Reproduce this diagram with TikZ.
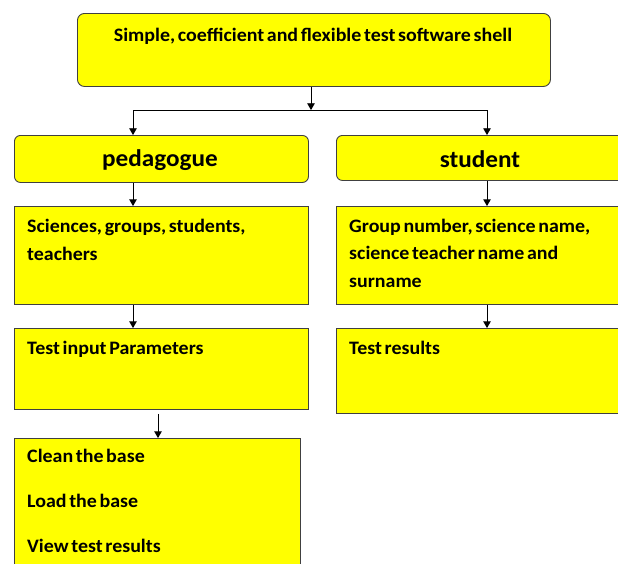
\documentclass[tikz,border=0pt]{standalone}
\usepackage{fontspec}
\setmainfont[FakeStretch=1.05, WordSpace=0.6]{Carlito}
\usetikzlibrary{arrows,positioning}

\definecolor{boxyellow}{RGB}{255,255,0}
\definecolor{boxline}{RGB}{64,64,64}

\tikzset{
  box/.style={draw=boxline, fill=boxyellow, line width=0.9pt, inner sep=0pt, anchor=north west},
  roundbox/.style={box, rounded corners=7pt},
  txt/.style={font=\bfseries\fontsize{19}{28}\selectfont, inner sep=0pt, text width=285pt, align=left, anchor=base west,
    execute at begin node={\spaceskip=0.14em plus 0.05em\relax}},
  head/.style={font=\bfseries\fontsize{24}{26}\selectfont, inner sep=0pt},
  arr/.style={-triangle 60, line width=0.8pt}
}

\begin{document}
\begin{tikzpicture}[x=1pt,y=-1pt]
  \clip (0,0) rectangle (618,563);

%the top shell box
  \node[roundbox, minimum width=473pt, minimum height=73pt] (shell) at (77,13) {};
  \node[font=\bfseries\fontsize{19}{22}\selectfont, inner sep=0pt] (shelltxt) at (313,36) {Simple, coefficient and flexible test software shell};

%the two user boxes
  \node[roundbox, minimum width=294pt, minimum height=47pt, rounded corners=6pt] (ped) at (14,135) {};
  \node[head] (pedtxt) at (160,160) {pedagogue};
  \node[roundbox, minimum width=310pt, minimum height=45pt, rounded corners=6pt] (stu) at (336,135) {};
  \node[head] (stutxt) at (480,159) {student};

%the pedagogue column
  \node[box, minimum width=294pt, minimum height=98pt] (sci) at (14,206) {};
  \node[txt] (scitxt) at (27,232) {Sciences, groups, students,\\teachers};
  \node[box, minimum width=294pt, minimum height=81pt] (param) at (14,328) {};
  \node[txt] (paramtxt) at (27,354) {Test input Parameters};
  \node[box, minimum width=286pt, minimum height=140pt] (base) at (14,438) {};
  \node[txt, font=\bfseries\fontsize{19}{45}\selectfont] (basetxt) at (27,462) {Clean the base\\Load\ the base\\View test results};

%the student column
  \node[box, minimum width=310pt, minimum height=98pt] (group) at (336,206) {};
  \node[txt, font=\bfseries\fontsize{19}{27.5}\selectfont] (grouptxt) at (349,232) {Group number, science name,\\science teacher name and\\surname};
  \node[box, minimum width=310pt, minimum height=85pt] (res) at (336,328) {};
  \node[txt] (restxt) at (349,354) {Test results};

%the columns the arrows run in
  \coordinate (split) at (311,110);
  \coordinate (lcol) at (133,0);
  \coordinate (rcol) at (487,0);
  \coordinate (bcol) at (158,0);

%the arrows
  \draw[arr] (split |- shell.south) -- (split);
  \draw[line width=0.8pt] (lcol |- split) -- (rcol |- split);
  \begin{scope}[every path/.style={arr}]
    \draw (lcol |- split) -- (lcol |- ped.north);
    \draw (rcol |- split) -- (rcol |- stu.north);
    \draw (lcol |- ped.south) -- (lcol |- sci.north);
    \draw (rcol |- stu.south) -- (rcol |- group.north);
    \draw (lcol |- sci.south) -- (lcol |- param.north);
    \draw (rcol |- group.south) -- (rcol |- res.north);
    \draw (bcol |- res.south) -- (bcol |- base.north);
  \end{scope}
\end{tikzpicture}
\end{document}
